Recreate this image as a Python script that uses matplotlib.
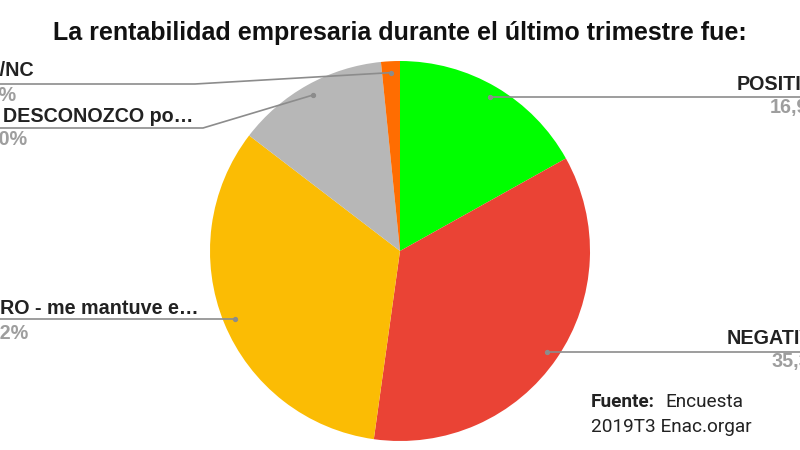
import numpy as np
import matplotlib
matplotlib.use("Agg")
import matplotlib.pyplot as plt

# ---- data ----
categories = ["POSITIVO", "NEGATIVO", "NEUTRO - me mantuve e…", "LO DESCONOZCO po…", "NS/NC"]
values = [16.9, 35.3, 33.2, 13.0, 1.6]
pct_labels = ["16,9%", "35,3%", "33,2%", "13,0%", "1,6%"]
colors = ["#00ff00", "#ea4335", "#fbbc04", "#b7b7b7", "#ff6d01"]
title = "La rentabilidad empresaria durante el último trimestre fue:"

W, H = 800, 450
fig = plt.figure(figsize=(W / 100, H / 100), dpi=100)
fig.patch.set_facecolor("white")

# pie geometry (pixels)
cx, cy, R = 400, 251, 190
ax = fig.add_axes([(cx - R) / W, (H - cy - R) / H, 2 * R / W, 2 * R / H])
ax.pie(values, colors=colors, startangle=90, counterclock=False, radius=1,
       wedgeprops=dict(linewidth=0))
ax.set_xlim(-1, 1)
ax.set_ylim(-1, 1)
ax.set_aspect("equal")
ax.axis("off")

# overlay in pixel coordinates
ov = fig.add_axes([0, 0, 1, 1], zorder=5)
ov.set_xlim(0, W)
ov.set_ylim(H, 0)
ov.axis("off")
ov.patch.set_alpha(0)

cum = np.cumsum([0] + values[:-1])
mids = [(c + v / 2) / 100 * 2 * np.pi for c, v in zip(cum, values)]
anchors = [(cx + 0.94 * R * np.sin(a), cy - 0.94 * R * np.cos(a)) for a in mids]

lab_fp = dict(family="Liberation Sans", fontweight="bold", fontsize=14.2)
renderer = fig.canvas.get_renderer()


def text_w(s):
    t = ov.text(0, 0, s, **lab_fp)
    w = t.get_window_extent(renderer).width
    t.remove()
    return w


# label layout: (line path after anchor, label x, label y, visible-from index or None,
#                pct x, pct y)
layout = [
    ([(810, None)], 737, 85, None, 770, 108),
    ([(810, None)], 727, 338, None, 771, 361),
    ([(-10, None)], 0, 309, 4, -28, 333),
    ([(203, 128), (-10, 128)], 3, 117, 3, -28, 140),
    ([(195, 84), (-10, 84)], 0, 71, 2, -28, 95),
]

line_col = "#8c8c8c"
for i, (path, lx, ly, vis, px, py) in enumerate(layout):
    ax0, ay0 = anchors[i]
    xs, ys = [ax0], [ay0]
    for (x, y) in path:
        xs.append(x)
        ys.append(ay0 if y is None else y)
    ov.plot(xs, ys, color=line_col, lw=1.2, solid_capstyle="butt", clip_on=False)
    ov.plot([ax0], [ay0], "o", color=line_col, ms=2.8, clip_on=False)
    label = categories[i]
    if vis is not None:
        hidden = text_w(label) - text_w(label[vis:])
        lx = lx - hidden
    ov.text(lx, ly, label, ha="left", va="center", color="#222222", **lab_fp)
    ov.text(px, py, pct_labels[i], ha="left", va="center", color="#9e9e9e", **lab_fp)

# title
ov.text(400, 33, title, ha="center", va="center", color="#111111",
        family="Liberation Sans", fontweight="bold", fontsize=18.0)

# source note
src_fs = 13.7
ov.text(591, 402, "Fuente:", ha="left", va="center", color="#222222",
        family="Roboto", fontweight="bold", fontsize=src_fs)
ov.text(665, 402, "Encuesta", ha="left", va="center", color="#222222",
        family="Roboto", fontsize=src_fs)
ov.text(591, 427, "2019T3 Enac.orgar", ha="left", va="center", color="#222222",
        family="Roboto", fontsize=src_fs)

fig.savefig("out.png", dpi=100, facecolor="white")
